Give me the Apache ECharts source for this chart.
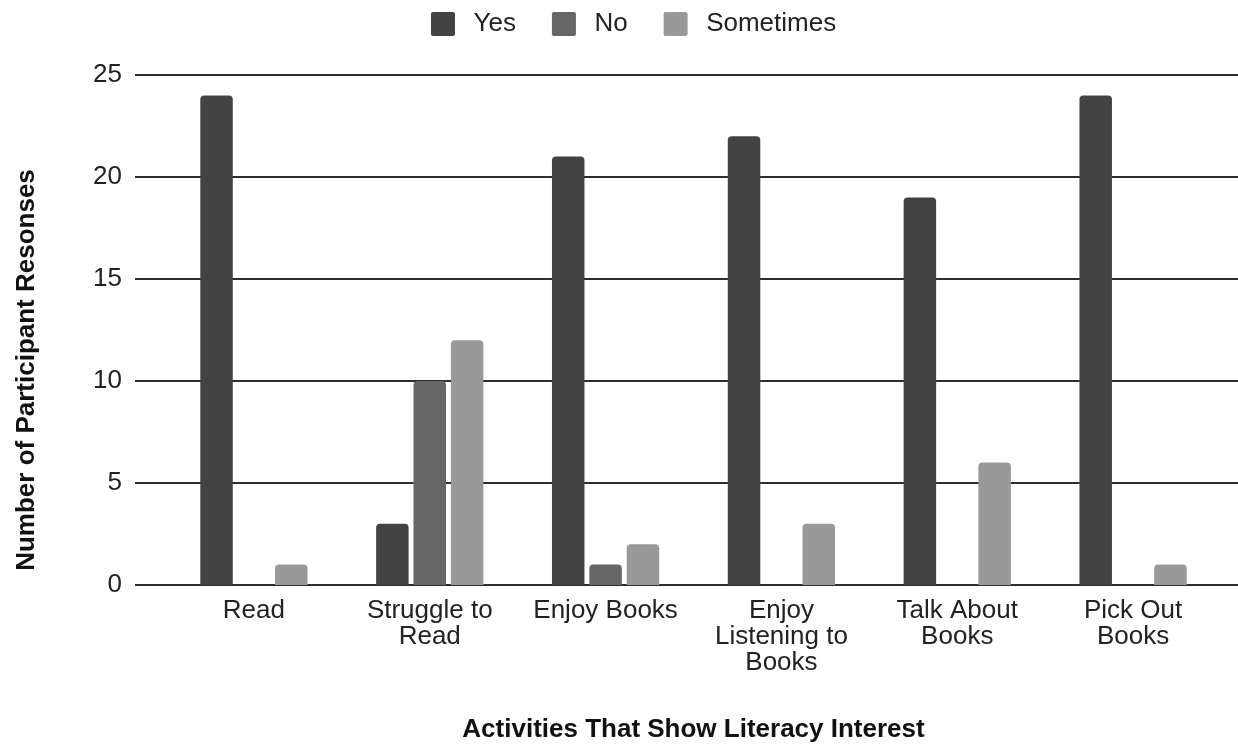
<!DOCTYPE html>
<html>
<head>
<meta charset="utf-8">
<script src="https://cdn.jsdelivr.net/npm/echarts@6/dist/echarts.min.js"></script>
<style>
  html, body { margin: 0; padding: 0; background: #ffffff; }
  #chart { width: 1238px; height: 744px; }
</style>
</head>
<body>
<div id="chart"></div>
<script>
// Survey responses per literacy activity
const categories = ['Read', 'Struggle to\nRead', 'Enjoy Books', 'Enjoy\nListening to\nBooks', 'Talk About\nBooks', 'Pick Out\nBooks'];
const yesValues = [24, 3, 21, 22, 19, 24];
const noValues = [0, 10, 1, 0, 0, 0];
const sometimesValues = [1, 12, 2, 3, 6, 1];
const seriesNames = ['Yes', 'No', 'Sometimes'];
const yTicks = { min: 0, max: 25, interval: 5 };

const FONT = '"Liberation Sans", Arial, sans-serif';
const colors = ['#434343', '#666666', '#999999'];
// small square with slightly rounded corners for the legend keys
const KEY_ICON = 'path://M2,0 H22 A2,2 0 0 1 24,2 V22 A2,2 0 0 1 22,24 H2 A2,2 0 0 1 0,22 V2 A2,2 0 0 1 2,0 Z';

const chart = echarts.init(document.getElementById('chart'), null, { renderer: 'canvas' });

function barSeries(name, data, color) {
  return {
    name: name,
    type: 'bar',
    xAxisIndex: 1,
    yAxisIndex: 1,
    data: data,
    barWidth: 32.5,
    barGap: '15%',
    itemStyle: { color: color, borderRadius: [4, 4, 0, 0] },
    emphasis: { disabled: true }
  };
}

chart.setOption({
  animation: false,
  color: colors,
  textStyle: { fontFamily: FONT },
  legend: {
    top: 6,
    left: 426,
    itemWidth: 25,
    itemHeight: 24,
    itemGap: 36,
    icon: KEY_ICON,
    textStyle: { fontSize: 26, color: '#222222', fontFamily: FONT, padding: [0, 0, 0, 13] },
    data: seriesNames
  },
  grid: [
    // wide grid carrying the value axis and its gridlines
    { left: 135, right: 0, top: 75, bottom: 159, containLabel: false, outerBoundsMode: 'none' },
    // category band for the bars
    { left: 166, right: 17, top: 75, bottom: 159, containLabel: false, outerBoundsMode: 'none' }
  ],
  xAxis: [
    { type: 'value', gridIndex: 0, show: false, min: 0, max: 1 },
    {
      type: 'category',
      gridIndex: 1,
      data: categories,
      axisLine: { show: false },
      axisTick: { show: false },
      axisLabel: {
        interval: 0,
        margin: 13,
        fontSize: 26,
        lineHeight: 26,
        color: '#222222',
        fontFamily: FONT,
        align: 'center'
      },
      name: 'Activities That Show Literacy Interest',
      nameLocation: 'middle',
      nameGap: 132,
      nameTextStyle: { fontSize: 26, fontWeight: 'bold', color: '#111111', fontFamily: FONT, verticalAlign: 'top' }
    }
  ],
  yAxis: [
    {
      type: 'value',
      gridIndex: 0,
      min: yTicks.min,
      max: yTicks.max,
      interval: yTicks.interval,
      axisLine: { show: false },
      axisTick: { show: false },
      splitLine: { show: true, lineStyle: { color: '#2e2e2e', width: 2 } },
      axisLabel: { margin: 13, fontSize: 26, color: '#222222', fontFamily: FONT }
    },
    {
      type: 'value',
      gridIndex: 1,
      min: yTicks.min,
      max: yTicks.max,
      interval: yTicks.interval,
      show: false
    }
  ],
  graphic: [
    {
      type: 'text',
      x: 27,
      y: 370,
      rotation: Math.PI / 2,
      style: {
        text: 'Number of Participant Resonses',
        font: 'bold 26px ' + FONT,
        fill: '#111111',
        align: 'center',
        verticalAlign: 'middle'
      }
    }
  ],
  series: [
    barSeries(seriesNames[0], yesValues, colors[0]),
    barSeries(seriesNames[1], noValues, colors[1]),
    barSeries(seriesNames[2], sometimesValues, colors[2])
  ]
});
</script>
</body>
</html>
